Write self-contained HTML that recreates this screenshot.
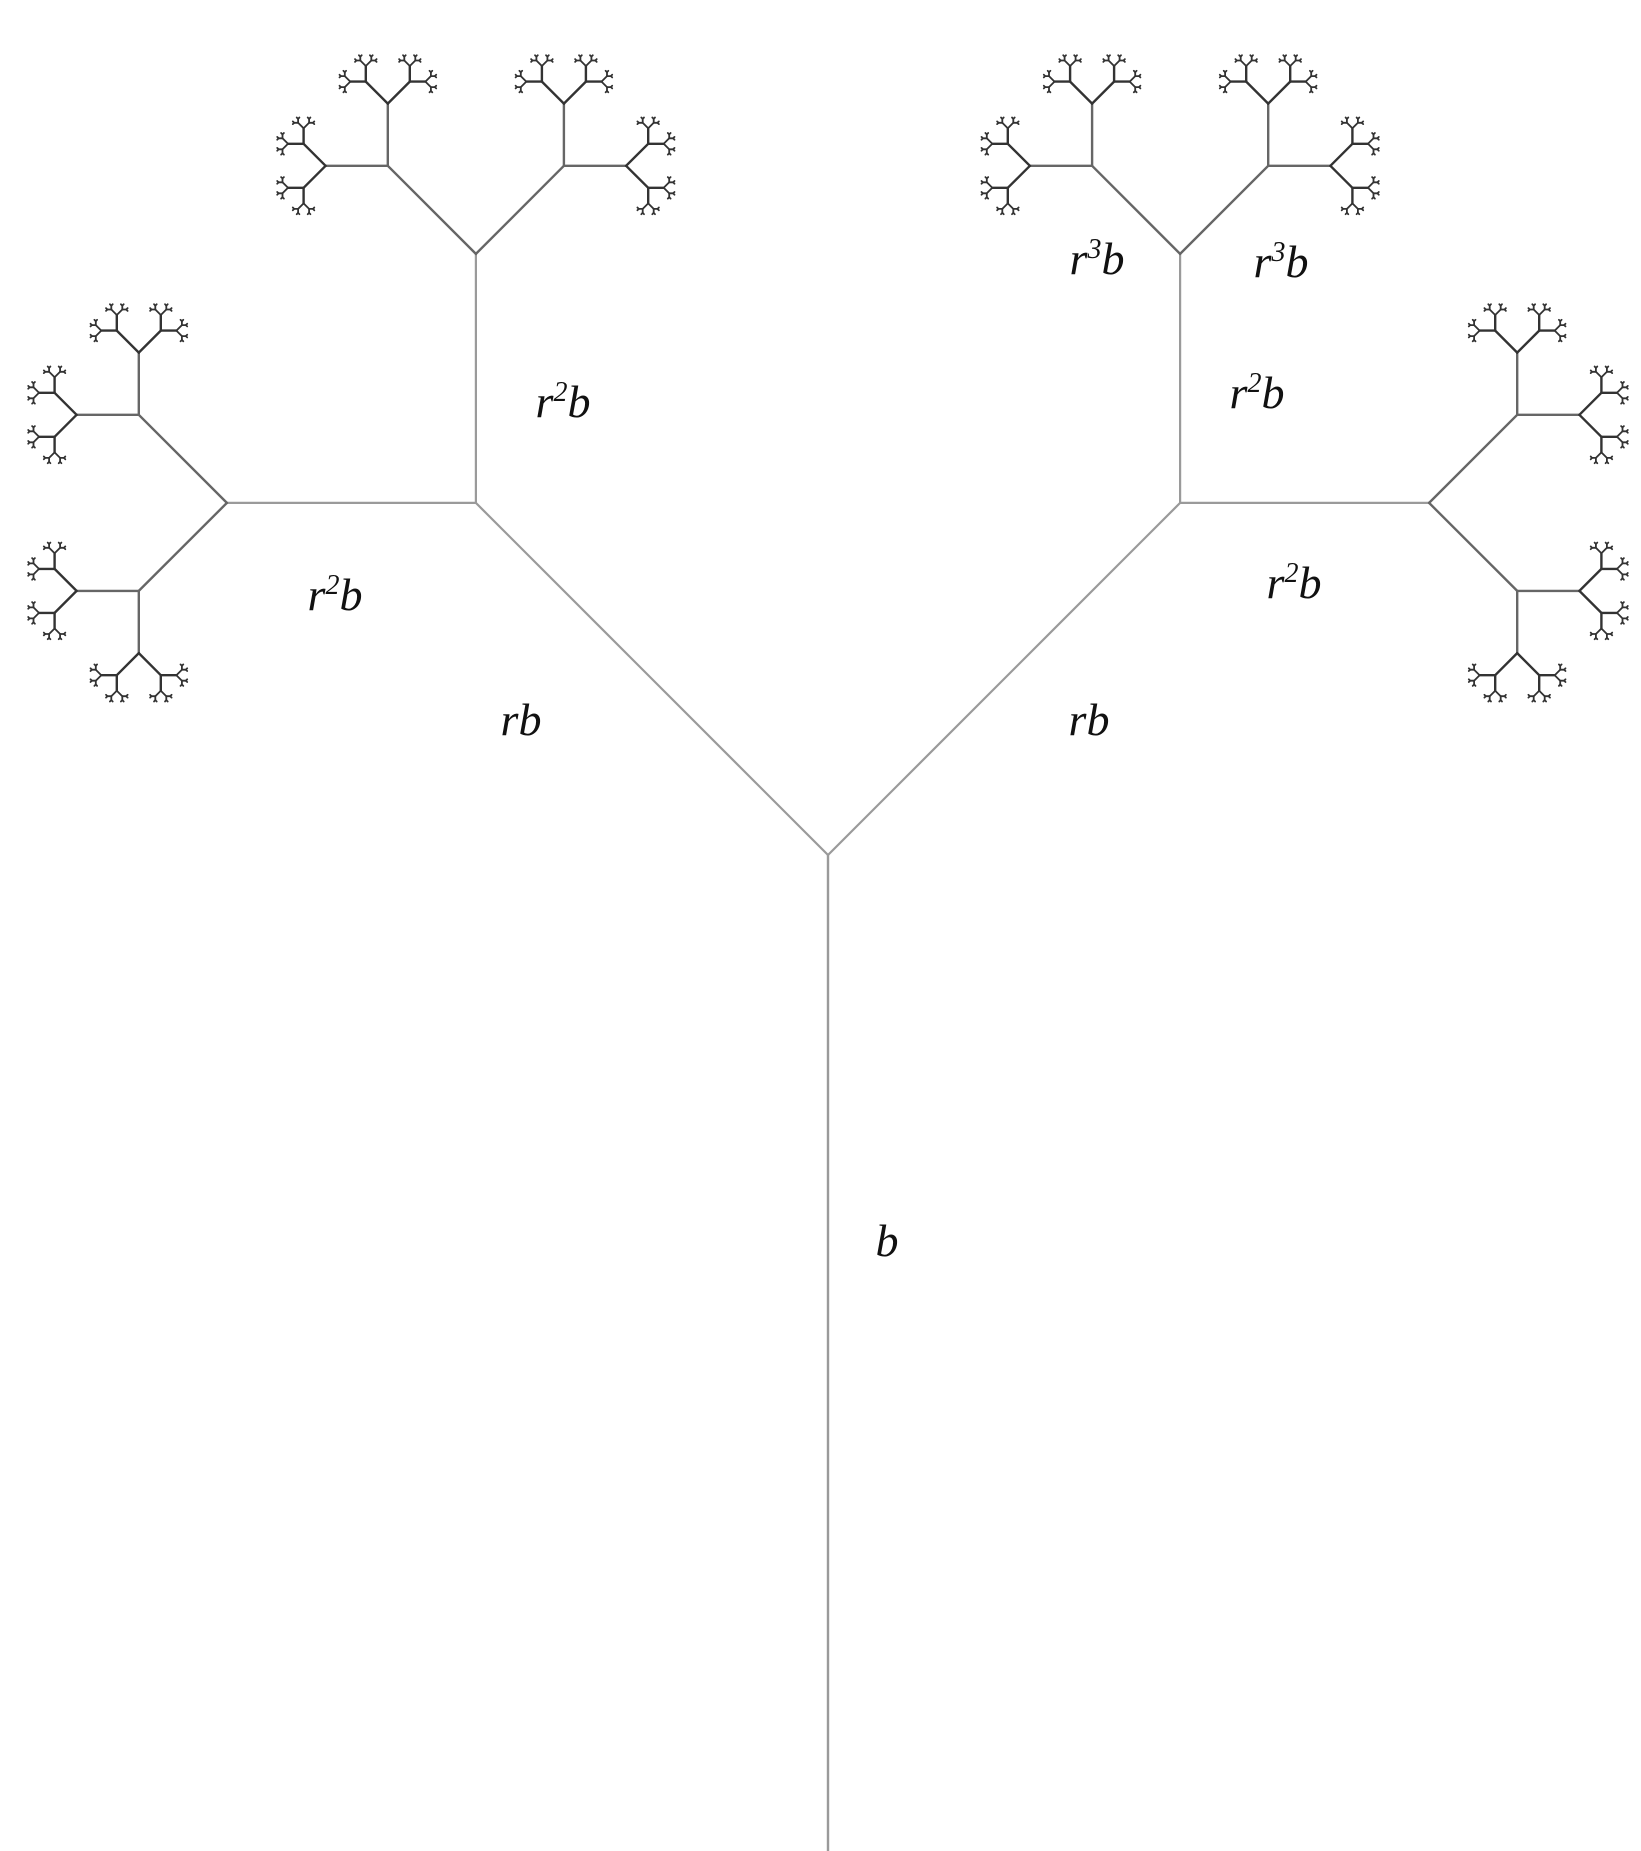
<!DOCTYPE html>
<html><head><style>html,body{margin:0;padding:0;background:#fff}svg{display:block}
text{font-family:"Liberation Serif",serif;font-style:italic;font-size:46px;fill:#111;text-anchor:middle}</style></head>
<body>
<svg id="s" width="1641" height="1851" viewBox="0 0 1641 1851" xmlns="http://www.w3.org/2000/svg">
<g id="g" stroke-linecap="round"></g>
<text x="563" y="417">r<tspan font-size="28" dy="-16">2</tspan><tspan dy="16">b</tspan></text>
<text x="335" y="610">r<tspan font-size="28" dy="-16">2</tspan><tspan dy="16">b</tspan></text>
<text x="521" y="735">rb</text>
<text x="1089" y="735">rb</text>
<text x="1257" y="408">r<tspan font-size="28" dy="-16">2</tspan><tspan dy="16">b</tspan></text>
<text x="1294" y="598">r<tspan font-size="28" dy="-16">2</tspan><tspan dy="16">b</tspan></text>
<text x="1097" y="274">r<tspan font-size="28" dy="-16">3</tspan><tspan dy="16">b</tspan></text>
<text x="1281" y="277">r<tspan font-size="28" dy="-16">3</tspan><tspan dy="16">b</tspan></text>
<text x="887" y="1256">b</text>
</svg>
<script>
var g=document.getElementById('g'),out='';
function line(x1,y1,x2,y2,w,c){out+='<line x1="'+x1.toFixed(1)+'" y1="'+y1.toFixed(1)+'" x2="'+x2.toFixed(1)+'" y2="'+y2.toFixed(1)+'" stroke="'+c+'" stroke-width="'+w+'"/>';}
function br(x,y,a,L){
  if(L<1.2)return;
  var x2=x+L*Math.cos(a),y2=y-L*Math.sin(a);
  var c=L>200?'#9a9a9a':(L>40?'#666':'#333');
  var w=L>200?2.2:(L>10?2.4:1.8);
  line(x,y,x2,y2,w,c);
  br(x2,y2,a+Math.PI/4,L/2);
  br(x2,y2,a-Math.PI/4,L/2);
}
line(828,1851,828,855,2.4,'#9a9a9a');
br(828,855,Math.PI/2+Math.PI/4,498);
br(828,855,Math.PI/2-Math.PI/4,498);
g.innerHTML=out;
</script>
</body></html>
